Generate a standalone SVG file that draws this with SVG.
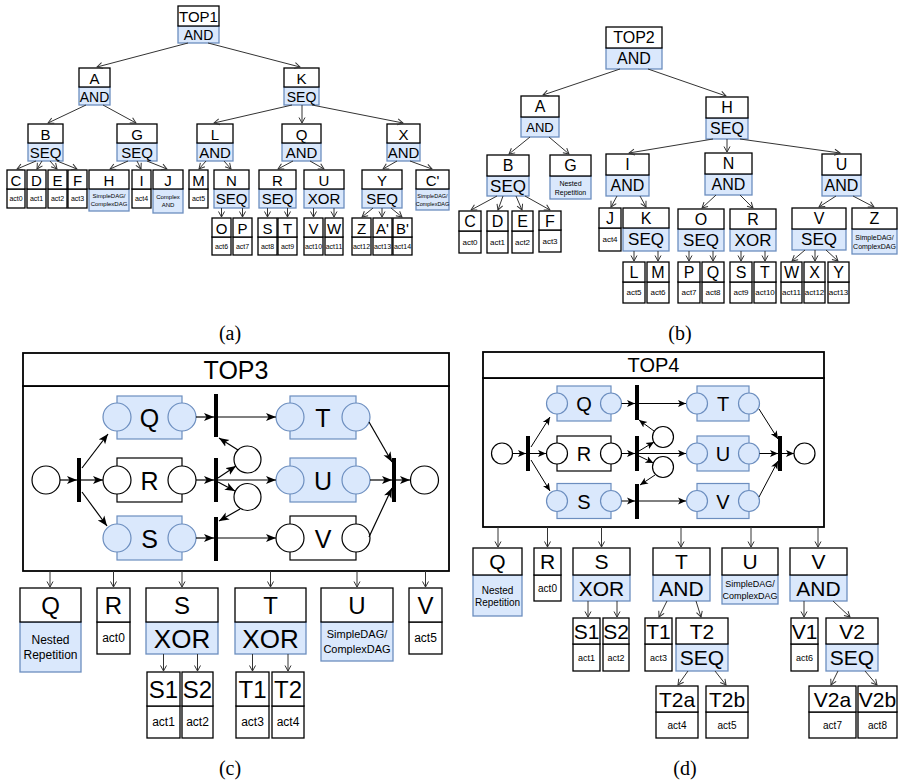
<svg xmlns="http://www.w3.org/2000/svg" width="898" height="782" viewBox="0 0 898 782">
<style>
.w{fill:#fff;stroke:#000;stroke-width:1.3}
.b{fill:#dae8fc;stroke:#6c8ebf;stroke-width:1.3}
.pw{fill:#fff;stroke:#000;stroke-width:1.2}
.pb{fill:#dae8fc;stroke:#6c8ebf;stroke-width:1.2}
.bar{fill:#000}
.frame{fill:#fff;stroke:#000;stroke-width:1.8}
.e{fill:none;stroke:#333;stroke-width:1;marker-end:url(#oa)}
.n{fill:none;stroke:#000;stroke-width:1.2;marker-end:url(#fa)}
.n2{fill:none;stroke:#000;stroke-width:1;marker-end:url(#fb)}
.t{font-family:"Liberation Sans",Arial,Helvetica,sans-serif;text-anchor:middle;dominant-baseline:central;fill:#000}
.cap{font-family:"Liberation Serif","Times New Roman",serif;text-anchor:middle;font-size:20px;fill:#000}
.a1{font-size:15px}.a2{font-size:14px}.a3{font-size:7px}.a4{font-size:6px}
.b1{font-size:16px}.b3{font-size:8px}.b4{font-size:7px}
.c1{font-size:24px}.c2{font-size:26px}.c3{font-size:12px}.c4{font-size:11px}
.d1{font-size:21px}.d3{font-size:10px}.d4{font-size:9px}
</style>
<defs>
<marker id="oa" markerWidth="8" markerHeight="8" refX="7" refY="4" orient="auto" markerUnits="userSpaceOnUse"><path d="M1.5,1 L7,4 L1.5,7" fill="none" stroke="#333" stroke-width="1"/></marker>
<marker id="fa" markerWidth="11" markerHeight="9" refX="10" refY="4.5" orient="auto" markerUnits="userSpaceOnUse"><path d="M0,0.5 L10,4.5 L0,8.5 L2.5,4.5 z" fill="#000"/></marker>
<marker id="fb" markerWidth="9" markerHeight="8" refX="8" refY="4" orient="auto" markerUnits="userSpaceOnUse"><path d="M0,0.5 L8,4 L0,7.5 L2,4 z" fill="#000"/></marker>
</defs>
<rect width="898" height="782" fill="#fff"/>

<!-- ===== Panel (a) ===== -->
<g id="a-TOP1"><rect class="b" x="178" y="26" width="41" height="17"/><rect class="w" x="178" y="6" width="41" height="20"/><text class="t a1" x="198.5" y="16.5">TOP1</text><text class="t a2" x="198.5" y="35">AND</text></g>
<g id="a-A"><rect class="b" x="79" y="87" width="31" height="18"/><rect class="w" x="79" y="68" width="31" height="19"/><text class="t a1" x="94.5" y="78">A</text><text class="t a2" x="94.5" y="96.5">AND</text></g>
<g id="a-K"><rect class="b" x="284" y="87" width="35" height="18"/><rect class="w" x="284" y="68" width="35" height="19"/><text class="t a1" x="301.5" y="78">K</text><text class="t a2" x="301.5" y="96.5">SEQ</text></g>
<g id="a-B"><rect class="b" x="28" y="143" width="35" height="18"/><rect class="w" x="28" y="124" width="35" height="19"/><text class="t a1" x="45.5" y="134">B</text><text class="t a1" x="45.5" y="152.5">SEQ</text></g>
<g id="a-G"><rect class="b" x="117" y="143" width="40" height="18"/><rect class="w" x="117" y="124" width="40" height="19"/><text class="t a1" x="137" y="134">G</text><text class="t a1" x="137" y="152.5">SEQ</text></g>
<g id="a-L"><rect class="b" x="197" y="143" width="36" height="18"/><rect class="w" x="197" y="124" width="36" height="19"/><text class="t a1" x="215" y="134">L</text><text class="t a1" x="215" y="152.5">AND</text></g>
<g id="a-Q"><rect class="b" x="282" y="143" width="39" height="18"/><rect class="w" x="282" y="124" width="39" height="19"/><text class="t a1" x="301.5" y="134">Q</text><text class="t a1" x="301.5" y="152.5">AND</text></g>
<g id="a-X"><rect class="b" x="387" y="143" width="33" height="18"/><rect class="w" x="387" y="124" width="33" height="19"/><text class="t a1" x="403.5" y="134">X</text><text class="t a1" x="403.5" y="152.5">AND</text></g>
<g id="a-C"><rect class="w" x="7" y="189" width="18" height="19"/><rect class="w" x="7" y="170" width="18" height="19"/><text class="t a1" x="16" y="180">C</text><text class="t a3" x="16" y="198.5">act0</text></g>
<g id="a-D"><rect class="w" x="27" y="189" width="19" height="19"/><rect class="w" x="27" y="170" width="19" height="19"/><text class="t a1" x="36.5" y="180">D</text><text class="t a3" x="36.5" y="198.5">act1</text></g>
<g id="a-E"><rect class="w" x="48" y="189" width="19" height="19"/><rect class="w" x="48" y="170" width="19" height="19"/><text class="t a1" x="57.5" y="180">E</text><text class="t a3" x="57.5" y="198.5">act2</text></g>
<g id="a-F"><rect class="w" x="68" y="189" width="19" height="19"/><rect class="w" x="68" y="170" width="19" height="19"/><text class="t a1" x="77.5" y="180">F</text><text class="t a3" x="77.5" y="198.5">act3</text></g>
<g id="a-H"><rect class="b" x="89" y="189" width="40" height="22"/><rect class="w" x="89" y="170" width="40" height="19"/><text class="t a1" x="109" y="180">H</text><text class="t a4" x="109" y="196">SimpleDAG/</text><text class="t a4" x="109" y="204">ComplexDAG</text></g>
<g id="a-I"><rect class="w" x="132" y="189" width="19" height="19"/><rect class="w" x="132" y="170" width="19" height="19"/><text class="t a1" x="141.5" y="180">I</text><text class="t a3" x="141.5" y="198.5">act4</text></g>
<g id="a-J"><rect class="b" x="153" y="189" width="30" height="24"/><rect class="w" x="153" y="170" width="30" height="19"/><text class="t a1" x="168" y="180">J</text><text class="t a4" x="168" y="197">Complex</text><text class="t a4" x="168" y="205">AND</text></g>
<g id="a-M"><rect class="w" x="189" y="189" width="19" height="19"/><rect class="w" x="189" y="170" width="19" height="19"/><text class="t a1" x="198.5" y="180">M</text><text class="t a3" x="198.5" y="198.5">act5</text></g>
<g id="a-N"><rect class="b" x="214" y="189" width="35" height="19"/><rect class="w" x="214" y="170" width="35" height="19"/><text class="t a1" x="231.5" y="180">N</text><text class="t a1" x="231.5" y="198.5">SEQ</text></g>
<g id="a-R"><rect class="b" x="259" y="189" width="37" height="19"/><rect class="w" x="259" y="170" width="37" height="19"/><text class="t a1" x="277.5" y="180">R</text><text class="t a1" x="277.5" y="198.5">SEQ</text></g>
<g id="a-U"><rect class="b" x="304" y="189" width="40" height="19"/><rect class="w" x="304" y="170" width="40" height="19"/><text class="t a1" x="324" y="180">U</text><text class="t a1" x="324" y="198.5">XOR</text></g>
<g id="a-Y"><rect class="b" x="362" y="189" width="40" height="19"/><rect class="w" x="362" y="170" width="40" height="19"/><text class="t a1" x="382" y="180">Y</text><text class="t a1" x="382" y="198.5">SEQ</text></g>
<g id="a-Cp"><rect class="b" x="416" y="189" width="33" height="21"/><rect class="w" x="416" y="170" width="33" height="19"/><text class="t a1" x="432.5" y="180">C'</text><text class="t" font-size="5.5" x="432.5" y="196">SimpleDAG/</text><text class="t" font-size="5.5" x="432.5" y="204">ComplexDAG</text></g>
<g id="a-O"><rect class="w" x="212" y="237" width="19" height="18"/><rect class="w" x="212" y="218" width="19" height="19"/><text class="t a1" x="221.5" y="228">O</text><text class="t a3" x="221.5" y="246">act6</text></g>
<g id="a-P"><rect class="w" x="233" y="237" width="19" height="18"/><rect class="w" x="233" y="218" width="19" height="19"/><text class="t a1" x="242.5" y="228">P</text><text class="t a3" x="242.5" y="246">act7</text></g>
<g id="a-S"><rect class="w" x="258" y="237" width="19" height="18"/><rect class="w" x="258" y="218" width="19" height="19"/><text class="t a1" x="267.5" y="228">S</text><text class="t a3" x="267.5" y="246">act8</text></g>
<g id="a-T"><rect class="w" x="278" y="237" width="19" height="18"/><rect class="w" x="278" y="218" width="19" height="19"/><text class="t a1" x="287.5" y="228">T</text><text class="t a3" x="287.5" y="246">act9</text></g>
<g id="a-V"><rect class="w" x="304" y="237" width="19" height="18"/><rect class="w" x="304" y="218" width="19" height="19"/><text class="t a1" x="313.5" y="228">V</text><text class="t a3" x="313.5" y="246">act10</text></g>
<g id="a-W"><rect class="w" x="325" y="237" width="18" height="18"/><rect class="w" x="325" y="218" width="18" height="19"/><text class="t a1" x="334" y="228">W</text><text class="t a3" x="334" y="246">act11</text></g>
<g id="a-Z"><rect class="w" x="352" y="237" width="19" height="18"/><rect class="w" x="352" y="218" width="19" height="19"/><text class="t a1" x="361.5" y="228">Z</text><text class="t a3" x="361.5" y="246">act12</text></g>
<g id="a-Ap"><rect class="w" x="373" y="237" width="19" height="18"/><rect class="w" x="373" y="218" width="19" height="19"/><text class="t a1" x="382.5" y="228">A'</text><text class="t a3" x="382.5" y="246">act13</text></g>
<g id="a-Bp"><rect class="w" x="393" y="237" width="19" height="18"/><rect class="w" x="393" y="218" width="19" height="19"/><text class="t a1" x="402.5" y="228">B'</text><text class="t a3" x="402.5" y="246">act14</text></g>
<text class="cap" x="230" y="340">(a)</text>

<!-- ===== Panel (b) ===== -->
<g id="b-TOP2"><rect class="b" x="606" y="48" width="56" height="21"/><rect class="w" x="606" y="27" width="56" height="21"/><text class="t b1" x="634" y="37.5">TOP2</text><text class="t b1" x="634" y="58.5">AND</text></g>
<g id="b-A"><rect class="b" x="521" y="117" width="38" height="20"/><rect class="w" x="521" y="96" width="38" height="21"/><text class="t b1" x="540" y="106.5">A</text><text class="t" font-size="13" x="540" y="127">AND</text></g>
<g id="b-H"><rect class="b" x="706" y="118" width="42" height="21"/><rect class="w" x="706" y="97" width="42" height="21"/><text class="t b1" x="727" y="107.5">H</text><text class="t b1" x="727" y="128.5">SEQ</text></g>
<g id="b-B"><rect class="b" x="487" y="176" width="42" height="20"/><rect class="w" x="487" y="155" width="42" height="21"/><text class="t b1" x="508" y="165.5">B</text><text class="t" font-size="17" x="508" y="186">SEQ</text></g>
<g id="b-G"><rect class="b" x="550" y="176" width="41" height="23"/><rect class="w" x="550" y="155" width="41" height="21"/><text class="t b1" x="570.5" y="165.5">G</text><text class="t b4" x="570.5" y="183">Nested</text><text class="t b4" x="570.5" y="192">Repetition</text></g>
<g id="b-I"><rect class="b" x="606" y="175" width="43" height="21"/><rect class="w" x="606" y="154" width="43" height="21"/><text class="t b1" x="627.5" y="164.5">I</text><text class="t b1" x="627.5" y="185.5">AND</text></g>
<g id="b-N"><rect class="b" x="705" y="174" width="47" height="21"/><rect class="w" x="705" y="153" width="47" height="21"/><text class="t b1" x="728.5" y="163.5">N</text><text class="t b1" x="728.5" y="184.5">AND</text></g>
<g id="b-U"><rect class="b" x="822" y="175" width="39" height="21"/><rect class="w" x="822" y="154" width="39" height="21"/><text class="t b1" x="841.5" y="164.5">U</text><text class="t b1" x="841.5" y="185.5">AND</text></g>
<g id="b-C"><rect class="w" x="459" y="231" width="22" height="22"/><rect class="w" x="459" y="211" width="22" height="20"/><text class="t b1" x="470" y="221">C</text><text class="t b3" x="470" y="242">act0</text></g>
<g id="b-D"><rect class="w" x="487" y="231" width="21" height="22"/><rect class="w" x="487" y="211" width="21" height="20"/><text class="t b1" x="497.5" y="221">D</text><text class="t b3" x="497.5" y="242">act1</text></g>
<g id="b-E"><rect class="w" x="512" y="231" width="21" height="22"/><rect class="w" x="512" y="211" width="21" height="20"/><text class="t b1" x="522.5" y="221">E</text><text class="t b3" x="522.5" y="242">act2</text></g>
<g id="b-F"><rect class="w" x="539" y="230" width="22" height="22"/><rect class="w" x="539" y="211" width="22" height="19"/><text class="t b1" x="550" y="221">F</text><text class="t b3" x="550" y="241">act3</text></g>
<g id="b-J"><rect class="w" x="599" y="228" width="22" height="23"/><rect class="w" x="599" y="208" width="22" height="20"/><text class="t b1" x="610" y="218">J</text><text class="t b3" x="610" y="239.5">act4</text></g>
<g id="b-K"><rect class="b" x="623" y="228" width="46" height="23"/><rect class="w" x="623" y="208" width="46" height="20"/><text class="t b1" x="646" y="218">K</text><text class="t" font-size="17" x="646" y="239.5">SEQ</text></g>
<g id="b-O"><rect class="b" x="678" y="229" width="46" height="22"/><rect class="w" x="678" y="209" width="46" height="20"/><text class="t b1" x="701" y="219">O</text><text class="t" font-size="17" x="701" y="240">SEQ</text></g>
<g id="b-R"><rect class="b" x="730" y="229" width="46" height="22"/><rect class="w" x="730" y="209" width="46" height="20"/><text class="t b1" x="753" y="219">R</text><text class="t" font-size="17" x="753" y="240">XOR</text></g>
<g id="b-V"><rect class="b" x="792" y="229" width="54" height="21"/><rect class="w" x="792" y="208" width="54" height="21"/><text class="t b1" x="819" y="218.5">V</text><text class="t" font-size="17" x="819" y="239.5">SEQ</text></g>
<g id="b-Z"><rect class="b" x="852" y="229" width="45" height="25"/><rect class="w" x="852" y="208" width="45" height="21"/><text class="t b1" x="874.5" y="218.5">Z</text><text class="t b4" x="874.5" y="237">SimpleDAG/</text><text class="t b4" x="874.5" y="246">ComplexDAG</text></g>
<g id="b-L"><rect class="w" x="623" y="282" width="22" height="21"/><rect class="w" x="623" y="262" width="22" height="20"/><text class="t b1" x="634" y="272">L</text><text class="t b3" x="634" y="292.5">act5</text></g>
<g id="b-M"><rect class="w" x="647" y="282" width="22" height="21"/><rect class="w" x="647" y="262" width="22" height="20"/><text class="t b1" x="658" y="272">M</text><text class="t b3" x="658" y="292.5">act6</text></g>
<g id="b-P"><rect class="w" x="678" y="282" width="22" height="21"/><rect class="w" x="678" y="262" width="22" height="20"/><text class="t b1" x="689" y="272">P</text><text class="t b3" x="689" y="292.5">act7</text></g>
<g id="b-Q"><rect class="w" x="702" y="282" width="22" height="21"/><rect class="w" x="702" y="262" width="22" height="20"/><text class="t b1" x="713" y="272">Q</text><text class="t b3" x="713" y="292.5">act8</text></g>
<g id="b-S"><rect class="w" x="730" y="282" width="22" height="21"/><rect class="w" x="730" y="262" width="22" height="20"/><text class="t b1" x="741" y="272">S</text><text class="t b3" x="741" y="292.5">act9</text></g>
<g id="b-T"><rect class="w" x="754" y="282" width="22" height="21"/><rect class="w" x="754" y="262" width="22" height="20"/><text class="t b1" x="765" y="272">T</text><text class="t b3" x="765" y="292.5">act10</text></g>
<g id="b-W"><rect class="w" x="781" y="282" width="21" height="21"/><rect class="w" x="781" y="262" width="21" height="20"/><text class="t b1" x="791.5" y="272">W</text><text class="t b3" x="791.5" y="292.5">act11</text></g>
<g id="b-X"><rect class="w" x="804" y="282" width="21" height="21"/><rect class="w" x="804" y="262" width="21" height="20"/><text class="t b1" x="814.5" y="272">X</text><text class="t b3" x="814.5" y="292.5">act12</text></g>
<g id="b-Y"><rect class="w" x="828" y="282" width="21" height="21"/><rect class="w" x="828" y="262" width="21" height="20"/><text class="t b1" x="838.5" y="272">Y</text><text class="t b3" x="838.5" y="292.5">act13</text></g>
<text class="cap" x="680" y="340">(b)</text>

<!-- ===== Panel (c) ===== -->
<g id="c-TOP3">
<rect class="frame" x="23" y="386" width="426" height="185"/>
<rect class="frame" x="23" y="353" width="426" height="33"/>
<text class="t" font-size="25" x="236" y="370">TOP3</text>
<circle class="pw" cx="46" cy="480" r="14"/>
<rect class="bar" x="77" y="458" width="4" height="44"/>
<g id="c-pQ"><rect class="pb" x="117" y="396" width="65" height="43"/><circle class="pb" cx="117" cy="417" r="14"/><circle class="pb" cx="182" cy="417" r="14"/><text class="t" font-size="25" x="149.5" y="418">Q</text></g>
<g id="c-pR"><rect class="pw" x="117" y="458" width="65" height="44"/><circle class="pw" cx="117" cy="480" r="14"/><circle class="pw" cx="182" cy="480" r="14"/><text class="t" font-size="25" x="149.5" y="481">R</text></g>
<g id="c-pS"><rect class="pb" x="117" y="516" width="65" height="44"/><circle class="pb" cx="117" cy="538" r="14"/><circle class="pb" cx="182" cy="538" r="14"/><text class="t" font-size="25" x="149.5" y="539">S</text></g>
<rect class="bar" x="214" y="394" width="4" height="43"/>
<rect class="bar" x="214" y="458" width="4" height="44"/>
<rect class="bar" x="214" y="517" width="4" height="44"/>
<circle class="pw" cx="247.5" cy="459.5" r="13.5"/>
<circle class="pw" cx="247.5" cy="497" r="13.5"/>
<g id="c-pT"><rect class="pb" x="290" y="396" width="66" height="43"/><circle class="pb" cx="290" cy="417" r="14"/><circle class="pb" cx="356" cy="417" r="14"/><text class="t" font-size="25" x="323" y="418">T</text></g>
<g id="c-pU"><rect class="pb" x="290" y="458" width="66" height="44"/><circle class="pb" cx="290" cy="480" r="14"/><circle class="pb" cx="356" cy="480" r="14"/><text class="t" font-size="25" x="323" y="481">U</text></g>
<g id="c-pV"><rect class="pw" x="290" y="516" width="66" height="44"/><circle class="pw" cx="290" cy="538" r="14"/><circle class="pw" cx="356" cy="538" r="14"/><text class="t" font-size="25" x="323" y="539">V</text></g>
<rect class="bar" x="392" y="458" width="4" height="44"/>
<circle class="pw" cx="424.5" cy="480" r="14"/>
</g>
<g id="c-Q"><rect class="b" x="20" y="622" width="61" height="50"/><rect class="w" x="20" y="588" width="61" height="34"/><text class="t c1" x="50.5" y="605">Q</text><text class="t c3" x="50.5" y="640">Nested</text><text class="t c3" x="50.5" y="655">Repetition</text></g>
<g id="c-R"><rect class="w" x="97" y="622" width="33" height="32"/><rect class="w" x="97" y="588" width="33" height="34"/><text class="t c1" x="113.5" y="605">R</text><text class="t c3" x="113.5" y="638">act0</text></g>
<g id="c-S"><rect class="b" x="146" y="622" width="72" height="32"/><rect class="w" x="146" y="588" width="72" height="34"/><text class="t c1" x="182" y="605">S</text><text class="t c2" x="182" y="639">XOR</text></g>
<g id="c-T"><rect class="b" x="235" y="622" width="71" height="32"/><rect class="w" x="235" y="588" width="71" height="34"/><text class="t c1" x="270.5" y="605">T</text><text class="t c2" x="270.5" y="639">XOR</text></g>
<g id="c-U"><rect class="b" x="321" y="622" width="72" height="39"/><rect class="w" x="321" y="588" width="72" height="34"/><text class="t c1" x="357" y="605">U</text><text class="t c4" x="357" y="634">SimpleDAG/</text><text class="t c4" x="357" y="649">ComplexDAG</text></g>
<g id="c-V"><rect class="w" x="409" y="622" width="33" height="32"/><rect class="w" x="409" y="588" width="33" height="34"/><text class="t c1" x="425.5" y="605">V</text><text class="t c3" x="425.5" y="638">act5</text></g>
<g id="c-S1"><rect class="w" x="147" y="706" width="33" height="32"/><rect class="w" x="147" y="672" width="33" height="34"/><text class="t c1" x="163.5" y="689">S1</text><text class="t c3" x="163.5" y="722">act1</text></g>
<g id="c-S2"><rect class="w" x="182" y="706" width="31" height="32"/><rect class="w" x="182" y="672" width="31" height="34"/><text class="t c1" x="197.5" y="689">S2</text><text class="t c3" x="197.5" y="722">act2</text></g>
<g id="c-T1"><rect class="w" x="236" y="706" width="33" height="32"/><rect class="w" x="236" y="672" width="33" height="34"/><text class="t c1" x="252.5" y="689">T1</text><text class="t c3" x="252.5" y="722">act3</text></g>
<g id="c-T2"><rect class="w" x="272" y="706" width="32" height="32"/><rect class="w" x="272" y="672" width="32" height="34"/><text class="t c1" x="288" y="689">T2</text><text class="t c3" x="288" y="722">act4</text></g>
<text class="cap" x="230" y="775">(c)</text>

<!-- ===== Panel (d) ===== -->
<g id="d-TOP4">
<rect class="frame" x="483" y="378" width="341" height="149"/>
<rect class="frame" x="483" y="352" width="341" height="26"/>
<text class="t" font-size="20" x="653.5" y="365">TOP4</text>
<circle class="pw" cx="502" cy="453.5" r="10.5"/>
<rect class="bar" x="526" y="436" width="4" height="35"/>
<g id="d-pQ"><rect class="pb" x="557" y="386" width="54" height="35"/><circle class="pb" cx="557" cy="403.5" r="10.5"/><circle class="pb" cx="611" cy="403.5" r="10.5"/><text class="t" font-size="20" x="584" y="404">Q</text></g>
<g id="d-pR"><rect class="pw" x="557" y="436" width="54" height="35"/><circle class="pw" cx="557" cy="453.5" r="10.5"/><circle class="pw" cx="611" cy="453.5" r="10.5"/><text class="t" font-size="20" x="584" y="454">R</text></g>
<g id="d-pS"><rect class="pb" x="557" y="483.5" width="54" height="35"/><circle class="pb" cx="557" cy="501" r="10.5"/><circle class="pb" cx="611" cy="501" r="10.5"/><text class="t" font-size="20" x="584" y="501.5">S</text></g>
<rect class="bar" x="635" y="385" width="4" height="35"/>
<rect class="bar" x="635" y="436" width="4" height="35"/>
<rect class="bar" x="635" y="484" width="4" height="35"/>
<circle class="pw" cx="663" cy="437" r="10.5"/>
<circle class="pw" cx="663" cy="467" r="10.5"/>
<g id="d-pT"><rect class="pb" x="697" y="386" width="52" height="35"/><circle class="pb" cx="697" cy="403.5" r="10.5"/><circle class="pb" cx="749" cy="403.5" r="10.5"/><text class="t" font-size="20" x="723" y="404">T</text></g>
<g id="d-pU"><rect class="pb" x="697" y="436" width="52" height="35"/><circle class="pb" cx="697" cy="453.5" r="10.5"/><circle class="pb" cx="749" cy="453.5" r="10.5"/><text class="t" font-size="20" x="723" y="454">U</text></g>
<g id="d-pV"><rect class="pb" x="697" y="483.5" width="52" height="35"/><circle class="pb" cx="697" cy="501" r="10.5"/><circle class="pb" cx="749" cy="501" r="10.5"/><text class="t" font-size="20" x="723" y="501.5">V</text></g>
<rect class="bar" x="778" y="436" width="4" height="35"/>
<circle class="pw" cx="804.5" cy="453.5" r="10.5"/>
</g>
<g id="d-Q"><rect class="b" x="473" y="575" width="49" height="41"/><rect class="w" x="473" y="548" width="49" height="27"/><text class="t d1" x="497.5" y="561.5">Q</text><text class="t d3" x="497.5" y="590">Nested</text><text class="t d3" x="497.5" y="602">Repetition</text></g>
<g id="d-R"><rect class="w" x="534" y="575" width="27" height="26"/><rect class="w" x="534" y="548" width="27" height="27"/><text class="t d1" x="547.5" y="561.5">R</text><text class="t d3" x="547.5" y="588">act0</text></g>
<g id="d-S"><rect class="b" x="573" y="575" width="57" height="26"/><rect class="w" x="573" y="548" width="57" height="27"/><text class="t d1" x="601.5" y="561.5">S</text><text class="t d1" x="601.5" y="588.5">XOR</text></g>
<g id="d-T"><rect class="b" x="653" y="575" width="57" height="26"/><rect class="w" x="653" y="548" width="57" height="27"/><text class="t d1" x="681.5" y="561.5">T</text><text class="t d1" x="681.5" y="588.5">AND</text></g>
<g id="d-U"><rect class="b" x="722" y="575" width="56" height="29"/><rect class="w" x="722" y="548" width="56" height="27"/><text class="t d1" x="750" y="561.5">U</text><text class="t d4" x="750" y="584">SimpleDAG/</text><text class="t d4" x="750" y="596">ComplexDAG</text></g>
<g id="d-V"><rect class="b" x="790" y="575" width="57" height="26"/><rect class="w" x="790" y="548" width="57" height="27"/><text class="t d1" x="818.5" y="561.5">V</text><text class="t d1" x="818.5" y="588.5">AND</text></g>
<g id="d-S1"><rect class="w" x="573" y="644" width="27" height="27"/><rect class="w" x="573" y="618" width="27" height="26"/><text class="t d1" x="586.5" y="631">S1</text><text class="t d4" x="586.5" y="657.5">act1</text></g>
<g id="d-S2"><rect class="w" x="603" y="644" width="26" height="27"/><rect class="w" x="603" y="618" width="26" height="26"/><text class="t d1" x="616" y="631">S2</text><text class="t d4" x="616" y="657.5">act2</text></g>
<g id="d-T1"><rect class="w" x="645" y="644" width="27" height="27"/><rect class="w" x="645" y="618" width="27" height="26"/><text class="t d1" x="658.5" y="631">T1</text><text class="t d4" x="658.5" y="657.5">act3</text></g>
<g id="d-T2"><rect class="b" x="676" y="644" width="52" height="27"/><rect class="w" x="676" y="618" width="52" height="26"/><text class="t d1" x="702" y="631">T2</text><text class="t d1" x="702" y="657.5">SEQ</text></g>
<g id="d-V1"><rect class="w" x="791" y="644" width="27" height="27"/><rect class="w" x="791" y="618" width="27" height="26"/><text class="t d1" x="804.5" y="631">V1</text><text class="t d4" x="804.5" y="657.5">act6</text></g>
<g id="d-V2"><rect class="b" x="826" y="644" width="52" height="27"/><rect class="w" x="826" y="618" width="52" height="26"/><text class="t d1" x="852" y="631">V2</text><text class="t d1" x="852" y="657.5">SEQ</text></g>
<g id="d-T2a"><rect class="w" x="656" y="712" width="42" height="26"/><rect class="w" x="656" y="686" width="42" height="26"/><text class="t d1" x="677" y="699">T2a</text><text class="t d3" x="677" y="725">act4</text></g>
<g id="d-T2b"><rect class="w" x="706" y="712" width="42" height="26"/><rect class="w" x="706" y="686" width="42" height="26"/><text class="t d1" x="727" y="699">T2b</text><text class="t d3" x="727" y="725">act5</text></g>
<g id="d-V2a"><rect class="w" x="809" y="712" width="47" height="26"/><rect class="w" x="809" y="686" width="47" height="26"/><text class="t d1" x="832.5" y="699">V2a</text><text class="t d3" x="832.5" y="725">act7</text></g>
<g id="d-V2b"><rect class="w" x="858" y="712" width="39" height="26"/><rect class="w" x="858" y="686" width="39" height="26"/><text class="t d1" x="877.5" y="699">V2b</text><text class="t d3" x="877.5" y="725">act8</text></g>
<text class="cap" x="685" y="775">(d)</text>

<!-- ===== Connectors ===== -->
<g id="connectors">
<path class="e" d="M188,43 L97,67"/><path class="e" d="M208,43 L300,67"/>
<path class="e" d="M86,105 L48,123"/><path class="e" d="M103,105 L136,123"/>
<path class="e" d="M292,105 L214,123"/><path class="e" d="M302,105 L302,123"/><path class="e" d="M312,105 L403,123"/>
<path class="e" d="M36,161 L17,169"/><path class="e" d="M42,161 L37,169"/><path class="e" d="M50,161 L57,169"/><path class="e" d="M57,161 L77,169"/>
<path class="e" d="M128,161 L110,169"/><path class="e" d="M137,161 L141,169"/><path class="e" d="M147,161 L167,169"/>
<path class="e" d="M206,161 L199,169"/><path class="e" d="M224,161 L231,169"/>
<path class="e" d="M293,161 L278,169"/><path class="e" d="M310,161 L324,169"/>
<path class="e" d="M397,161 L383,169"/><path class="e" d="M410,161 L432,169"/>
<path class="e" d="M221.5,208 L221.5,217"/><path class="e" d="M242.5,208 L242.5,217"/>
<path class="e" d="M267.5,208 L267.5,217"/><path class="e" d="M287.5,208 L287.5,217"/>
<path class="e" d="M313.5,208 L313.5,217"/><path class="e" d="M334,208 L334,217"/>
<path class="e" d="M373,208 L362,217"/><path class="e" d="M382,208 L382,217"/><path class="e" d="M391,208 L402,217"/>

<path class="e" d="M620,69 L543,95"/><path class="e" d="M648,69 L726,96"/>
<path class="e" d="M530,137 L509,154"/><path class="e" d="M549,137 L569,154"/>
<path class="e" d="M713,139 L629,153"/><path class="e" d="M727,139 L727,152"/><path class="e" d="M740,139 L840,153"/>
<path class="e" d="M497,196 L471,210"/><path class="e" d="M503,196 L498,210"/><path class="e" d="M516,196 L522,210"/><path class="e" d="M525,196 L550,210"/>
<path class="e" d="M617,196 L611,207"/><path class="e" d="M640,196 L646,207"/>
<path class="e" d="M716,195 L702,208"/><path class="e" d="M740,195 L753,208"/>
<path class="e" d="M836,196 L819,207"/><path class="e" d="M853,196 L874,207"/>
<path class="e" d="M634,251 L634,261"/><path class="e" d="M658,251 L658,261"/>
<path class="e" d="M689,251 L689,261"/><path class="e" d="M713,251 L713,261"/>
<path class="e" d="M741,251 L741,261"/><path class="e" d="M765,251 L765,261"/>
<path class="e" d="M805,250 L792,261"/><path class="e" d="M815,250 L815,261"/><path class="e" d="M826,250 L838,261"/>

<path class="n" d="M60,480 L77,480"/>
<path class="n" d="M81,480 L103,480"/>
<path class="n" d="M82,468 L108,434"/>
<path class="n" d="M82,492 L107,526"/>
<path class="n" d="M196,417 L214,417"/>
<path class="n" d="M218,417 L276,417"/>
<path class="n" d="M196,480 L214,480"/>
<path class="n" d="M218,480 L276,480"/>
<path class="n" d="M218,478 L236,466"/>
<path class="n" d="M218,482 L235,491"/>
<path class="n" d="M238,450 L219,438"/>
<path class="n" d="M240,509 L219,521"/>
<path class="n" d="M196,538 L214,538"/>
<path class="n" d="M218,538 L276,538"/>
<path class="n" d="M369,422 L392,462"/>
<path class="n" d="M370,480 L392,480"/>
<path class="n" d="M369,537 L392,488"/>
<path class="n" d="M396,480 L410,480"/>
<path class="e" d="M50,571 L50,587"/><path class="e" d="M113.5,571 L113.5,587"/><path class="e" d="M182,571 L182,587"/>
<path class="e" d="M270.5,571 L270.5,587"/><path class="e" d="M357,571 L357,587"/><path class="e" d="M425.5,571 L425.5,587"/>
<path class="e" d="M163.5,654 L163.5,671"/><path class="e" d="M197.5,654 L197.5,671"/>
<path class="e" d="M252.5,654 L252.5,671"/><path class="e" d="M288,654 L288,671"/>

<path class="n2" d="M512.5,453.5 L526,453.5"/>
<path class="n2" d="M530,453.5 L546,453.5"/>
<path class="n2" d="M531,447 L550,417"/>
<path class="n2" d="M531,460 L550,491"/>
<path class="n2" d="M621.5,403.5 L635,403.5"/>
<path class="n2" d="M639,403.5 L686,403.5"/>
<path class="n2" d="M621.5,453.5 L635,453.5"/>
<path class="n2" d="M639,453.5 L686,453.5"/>
<path class="n2" d="M639,451 L654,442"/>
<path class="n2" d="M639,456 L653.5,463"/>
<path class="n2" d="M654,431 L639,420"/>
<path class="n2" d="M655,475 L640,485"/>
<path class="n2" d="M621.5,501 L635,501"/>
<path class="n2" d="M639,501 L686,501"/>
<path class="n2" d="M759,409 L778,439"/>
<path class="n2" d="M759.5,453.5 L778,453.5"/>
<path class="n2" d="M759,497 L778,461"/>
<path class="n2" d="M782,453.5 L794,453.5"/>
<path class="e" d="M498,527 L498,547"/><path class="e" d="M547.5,527 L547.5,547"/><path class="e" d="M601.5,527 L601.5,547"/>
<path class="e" d="M681,527 L681,547"/><path class="e" d="M751,527 L751,547"/><path class="e" d="M818,527 L818,547"/>
<path class="e" d="M588,601 L588,617"/><path class="e" d="M617,601 L617,617"/>
<path class="e" d="M667,601 L659,617"/><path class="e" d="M696,601 L701,617"/>
<path class="e" d="M804,601 L804,617"/><path class="e" d="M833,601 L850,617"/>
<path class="e" d="M688,671 L678,685"/><path class="e" d="M715,671 L726,685"/>
<path class="e" d="M838,671 L831,685"/><path class="e" d="M865,671 L877,685"/>
</g>
</svg>
